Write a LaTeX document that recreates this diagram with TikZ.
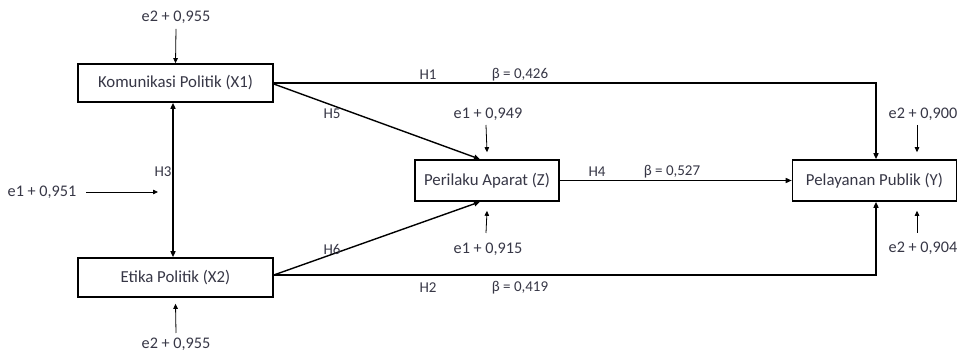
\documentclass[tikz,border=0pt]{standalone}
\usepackage{fontspec}
\setmainfont{Carlito}
\usetikzlibrary{arrows.meta}
\definecolor{txt}{RGB}{55,55,70}
\begin{document}
\begin{tikzpicture}[x=1pt,y=-1pt,
  box/.style={draw=black, line width=1.6pt, inner sep=0pt, text=txt, font=\fontsize{16.8}{19}\selectfont},
  lbl/.style={text=txt, inner sep=0pt, font=\fontsize{16.2}{18}\selectfont},
  hl/.style={text=txt, inner sep=0pt, font=\fontsize{15}{17}\selectfont},
  conn/.style={line width=1.4pt, -{Triangle[length=6pt,width=5pt]}},
  err/.style={line width=0.8pt, -{Triangle[length=5pt,width=4.5pt]}}]
\useasboundingbox (0,0) rectangle (958,352);
\fill[white] (0,0) rectangle (958,352);

% boxes
\node[box, minimum width=195pt, minimum height=38pt] (X1) at (175.5,83) {Komunikasi Politik (X1)};
\node[box, minimum width=195pt, minimum height=39pt] (X2) at (175.5,277.5) {Etika Politik (X2)};
\node[box, minimum width=144pt, minimum height=41pt] (Z) at (487,180.5) {Perilaku Aparat (Z)};
\node[box, minimum width=164pt, minimum height=41pt] (Y) at (874.5,180.5) {Pelayanan Publik (Y)};

% connection points
\coordinate (x1o) at ([yshift=-1pt]X1.east);
\coordinate (x2o) at ([yshift=2.5pt]X2.east);
\coordinate (zin1) at ([xshift=-7pt]Z.north);
\coordinate (zin2) at ([xshift=-7pt]Z.south);
\coordinate (yin1) at ([xshift=1.5pt]Y.north);
\coordinate (yin2) at ([xshift=1.5pt]Y.south);
\coordinate (h3a) at ([xshift=-2.5pt]X1.south);
\coordinate (h3b) at ([xshift=-2.5pt]X2.north);

% paths
\draw[conn] (X1.east) -| (yin1);
\draw[conn] (x2o) -| (yin2);
\draw[conn] (x1o) -- (zin1);
\draw[conn] (x2o) -- (zin2);
\draw[conn] (Z.east) -- (Y.west);
\draw[line width=1.4pt, {Triangle[length=6pt,width=5pt]}-{Triangle[length=6pt,width=5pt]}] (h3a) -- (h3b);

% path labels
\node[hl] (lH1) at (428,75) {H1};
\node[hl] (lb1) at (520,75) {β = 0,426};
\node[hl] (lH5) at (332,114) {H5};
\node[hl] (lH6) at (332,249) {H6};
\node[hl] (lH3) at (163,172) {H3};
\node[hl] (lH4) at (597,172) {H4};
\node[hl] (lb4) at (672,172) {β = 0,527};
\node[hl] (lH2) at (428,288) {H2};
\node[hl] (lb2) at (520,288) {β = 0,419};

% error terms
\node[lbl] (eX1) at (176,17) {e2 + 0,955};
\draw[err] ([yshift=-12pt]eX1.center) -- (X1.north);
\node[lbl] (eX2) at (176,344) {e2 + 0,955};
\draw[err] ([yshift=11pt]eX2.center) -- ([yshift=-6pt]X2.south);
\node[lbl] (eH3) at (42,192) {e1 + 0,951};
\coordinate (eH3end) at (158,192);
\draw[err] ([xshift=10pt]eH3.east) -- (eH3end);
\node[lbl] (eZ1) at (488,114) {e1 + 0,949};
\draw[err] ([xshift=-2pt,yshift=-11pt]eZ1.center) -- ([yshift=7pt]Z.north);
\node[lbl] (eZ2) at (488,249) {e1 + 0,915};
\draw[err] ([xshift=-2pt,yshift=16pt]eZ2.center) -- ([yshift=-9pt]Z.south);
\node[lbl] (eY1) at (923,114) {e2 + 0,900};
\draw[err] ([xshift=-6pt,yshift=-11pt]eY1.center) -- ([xshift=42.5pt,yshift=7pt]Y.north);
\node[lbl] (eY2) at (923,248) {e2 + 0,904};
\draw[err] ([xshift=-6pt,yshift=15pt]eY2.center) -- ([xshift=42.5pt,yshift=-9pt]Y.south);
\end{tikzpicture}
\end{document}
